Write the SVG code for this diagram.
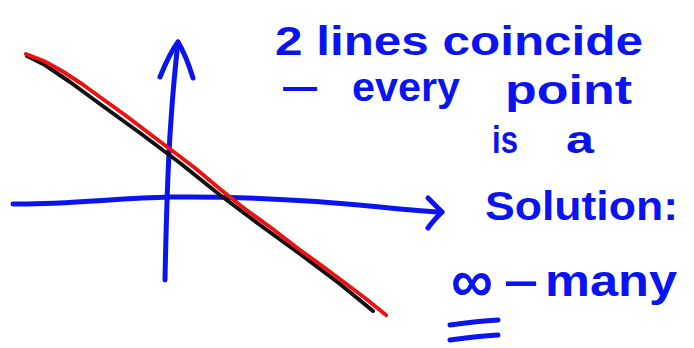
<svg xmlns="http://www.w3.org/2000/svg" width="694" height="348" viewBox="0 0 694 348">
<style>
.ink{fill:none;stroke-linecap:round;stroke-linejoin:round}
.blue{stroke:#0a14f0;stroke-width:5}
.t{font-family:"Liberation Sans",Arial,sans-serif;font-weight:bold;fill:#0a14f0}
</style>
<rect width="694" height="348" fill="#ffffff"/>
<g id="axes">
<g id="y-axis">
<path class="ink blue" d="M165,280 C166,230 168,160 171,120 C173,90 176,60 178,42"/>
<path class="ink blue" d="M160,77 C166,62 172,50 178,42 C184,52 189,65 193,78"/>
</g>
<g id="x-axis">
<path class="ink blue" d="M13,204 C60,205 120,198 170,197 C260,196 330,202 380,207 C410,210 430,212 442,212"/>
<path class="ink blue" d="M428,198 C434,204 439,209 442,212 C437,217 432,222 428,228"/>
</g>
</g>
<g id="connectors">
<path class="ink" stroke="#111111" stroke-width="4" d="M27,56 L45,65 L70,82 L100,104 L140,133 L180,163 L220,195 L260,225 L300,254 L340,284 L373,311"/>
<path class="ink" stroke="#ee1111" stroke-width="4" d="M26,54 L44,61 L62,71 L82,84 L100,97 L125,115 L150,134 L170,149 L195,168 L220,189 L245,209 L270,227 L300,250 L325,268 L345,283 L365,298 L386,315"/>
</g>
<g id="text">
<text class="t" x="275" y="55" font-size="40" textLength="368" lengthAdjust="spacingAndGlyphs">2 lines coincide</text>
<text class="t" font-size="40" y="101"><tspan x="283" y="100" textLength="34" lengthAdjust="spacingAndGlyphs">—</tspan><tspan x="352" y="101" textLength="108" lengthAdjust="spacingAndGlyphs">every</tspan><tspan x="505" y="104" textLength="127" lengthAdjust="spacingAndGlyphs">point</tspan></text>
<text class="t" font-size="38" y="153"><tspan x="492" textLength="26" lengthAdjust="spacingAndGlyphs">is</tspan><tspan x="566" textLength="28" lengthAdjust="spacingAndGlyphs">a</tspan></text>
<text class="t" x="485" y="220" font-size="40" textLength="193" lengthAdjust="spacingAndGlyphs">Solution:</text>
<text class="t" font-size="40" y="298"><tspan x="451" y="302" font-size="62" textLength="42" lengthAdjust="spacingAndGlyphs">∞</tspan><tspan x="504" y="296" font-size="46" textLength="34" lengthAdjust="spacingAndGlyphs">–</tspan><tspan x="545" y="296" font-size="44" textLength="132" lengthAdjust="spacingAndGlyphs">many</tspan></text>
<path class="ink blue" d="M450,325 C465,323 482,321 498,320 M450,340 C465,338 482,336 498,335"/>
</g>
</svg>
